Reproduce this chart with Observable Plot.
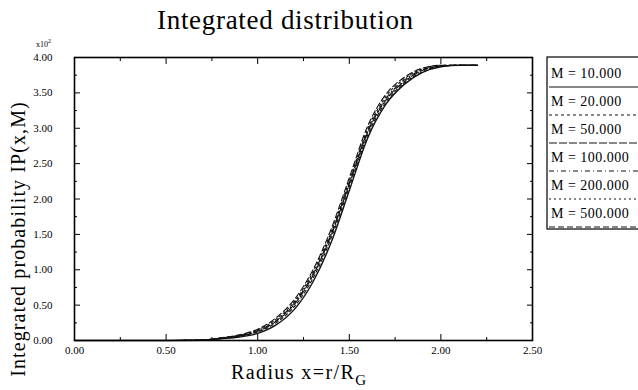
<!DOCTYPE html>
<html>
<head>
<meta charset="utf-8">
<script src="https://cdn.jsdelivr.net/npm/d3@7"></script>
<script src="https://cdn.jsdelivr.net/npm/@observablehq/plot@0.6"></script>
<style>
  body { margin: 0; background: #fff; }
  #wrap { position: relative; width: 638px; height: 390px; font-family: "Liberation Serif", serif; color: #000; overflow: hidden; }
  .abs { position: absolute; white-space: nowrap; }
</style>
</head>
<body>
<div id="wrap"></div>
<script>
// ---- data ----
const xs = [0, 0.5, 0.7, 0.8, 0.9, 1.0, 1.1, 1.2, 1.3, 1.4, 1.5, 1.6, 1.7, 1.8, 1.9, 2.0, 2.1, 2.2];
const s10  = [0, 0, 0.004, 0.025, 0.05, 0.10, 0.22, 0.44, 0.82, 1.38, 2.12, 2.86, 3.34, 3.62, 3.79, 3.87, 3.89, 3.89];
const s20  = [0, 0, 0.005, 0.030, 0.06, 0.12, 0.25, 0.48, 0.87, 1.44, 2.17, 2.90, 3.37, 3.64, 3.80, 3.88, 3.89, 3.89];
const s50  = [0, 0, 0.006, 0.032, 0.065, 0.13, 0.27, 0.51, 0.91, 1.48, 2.21, 2.94, 3.40, 3.66, 3.82, 3.88, 3.89, 3.89];
const s100 = [0, 0, 0.006, 0.034, 0.07, 0.14, 0.28, 0.53, 0.93, 1.50, 2.23, 2.96, 3.42, 3.68, 3.83, 3.88, 3.89, 3.89];
const s200 = [0, 0, 0.007, 0.036, 0.075, 0.15, 0.30, 0.55, 0.96, 1.53, 2.26, 2.99, 3.45, 3.70, 3.84, 3.89, 3.89, 3.89];
const s500 = [0, 0, 0.008, 0.040, 0.08, 0.16, 0.32, 0.58, 0.99, 1.57, 2.30, 3.03, 3.48, 3.72, 3.85, 3.89, 3.89, 3.89];
const seriesNames = ["M = 10.000", "M = 20.000", "M = 50.000", "M = 100.000", "M = 200.000", "M = 500.000"];
const seriesValues = [s10, s20, s50, s100, s200, s500];
const dashes = ["none", "3,3", "8,2", "5,3,1,3", "2,3", "6,3"];
const xTicks = [0, 0.5, 1.0, 1.5, 2.0, 2.5];
const xMinor = [0.25, 0.75, 1.25, 1.75, 2.25];
const yTicks = [0, 0.5, 1.0, 1.5, 2.0, 2.5, 3.0, 3.5, 4.0];
const yMinor = [0.25, 0.75, 1.25, 1.75, 2.25, 2.75, 3.25, 3.75];
const xTickLabels = ["0.00", "0.50", "1.00", "1.50", "2.00", "2.50"];
const yTickLabels = ["0.00", "0.50", "1.00", "1.50", "2.00", "2.50", "3.00", "3.50", "4.00"];

const rows = seriesValues.flatMap((vals, i) => vals.map((v, j) => ({x: xs[j], y: v, s: seriesNames[i]})));

const fmtX = d => xTickLabels[xTicks.indexOf(d)];
const fmtY = d => yTickLabels[yTicks.indexOf(d)];

const lines = seriesNames.map((name, i) =>
  Plot.line(rows.filter(r => r.s === name), {
    x: "x", y: "y", stroke: "#111", strokeWidth: i === 0 ? 1.4 : 1.1,
    strokeDasharray: dashes[i], curve: "monotone-x"
  })
);

const chart = Plot.plot({
  width: 638, height: 390,
  marginLeft: 74, marginRight: 106, marginTop: 57, marginBottom: 50,
  style: {fontFamily: "Liberation Serif, serif", fontSize: "11px", color: "#000", background: "transparent"},
  x: {domain: [0, 2.5]},
  y: {domain: [0, 4]},
  marks: [
    Plot.axisX({anchor: "bottom", ticks: xTicks, tickSize: -6, tickPadding: 12, tickFormat: fmtX, label: null}),
    Plot.axisX({anchor: "bottom", ticks: xMinor, tickSize: -3, tickFormat: () => "", label: null}),
    Plot.axisX({anchor: "top", ticks: xTicks, tickSize: -6, tickFormat: () => "", label: null}),
    Plot.axisX({anchor: "top", ticks: xMinor, tickSize: -3, tickFormat: () => "", label: null}),
    Plot.axisY({anchor: "left", ticks: yTicks, tickSize: -6, tickPadding: 28, tickFormat: fmtY, label: null}),
    Plot.axisY({anchor: "left", ticks: yMinor, tickSize: -3, tickFormat: () => "", label: null}),
    Plot.axisY({anchor: "right", ticks: yTicks, tickSize: -6, tickFormat: () => "", label: null}),
    Plot.axisY({anchor: "right", ticks: yMinor, tickSize: -3, tickFormat: () => "", label: null}),
    ...lines,
    Plot.frame({stroke: "#000", strokeWidth: 1.6})
  ]
});

const wrap = document.getElementById("wrap");
chart.style.position = "absolute";
chart.style.left = "0px";
chart.style.top = "0px";
wrap.appendChild(chart);

function addText(html, css) {
  const d = document.createElement("div");
  d.className = "abs";
  d.innerHTML = html;
  Object.assign(d.style, css);
  wrap.appendChild(d);
  return d;
}
addText("Integrated distribution", {left: "157px", top: "5px", fontSize: "27px", letterSpacing: "0.7px"});
addText("Radius x=r/R<sub style='font-size:15px;vertical-align:-6px'>G</sub>", {left: "231px", top: "361px", fontSize: "20px", letterSpacing: "1.4px"});
addText("x10<sup style='font-size:6px'>2</sup>", {left: "36px", top: "38px", fontSize: "8px"});
addText("Integrated probability IP(x,M)", {left: "18px", top: "239px", fontSize: "20px", letterSpacing: "1.1px",
  transform: "translate(-50%,-50%) rotate(-90deg)", transformOrigin: "center"});

// legend
const leg = d3.select(wrap).append("svg")
  .attr("width", 100).attr("height", 180)
  .style("position", "absolute").style("left", "546px").style("top", "56px");
leg.append("rect").attr("x", 1).attr("y", 1).attr("width", 110).attr("height", 172)
  .attr("fill", "none").attr("stroke", "#000").attr("stroke-width", 1.2);
seriesNames.forEach((name, i) => {
  const y0 = 6 + i * 28;
  leg.append("text").attr("x", 5).attr("y", y0 + 16).text(name)
    .style("font-family", "Liberation Serif, serif").style("font-size", "14px").style("letter-spacing", "0.5px");
  leg.append("line").attr("x1", 3).attr("x2", 100).attr("y1", y0 + 25).attr("y2", y0 + 25)
    .attr("stroke", "#111").attr("stroke-width", 1.2).attr("stroke-dasharray", dashes[i]);
});
</script>
</body>
</html>
